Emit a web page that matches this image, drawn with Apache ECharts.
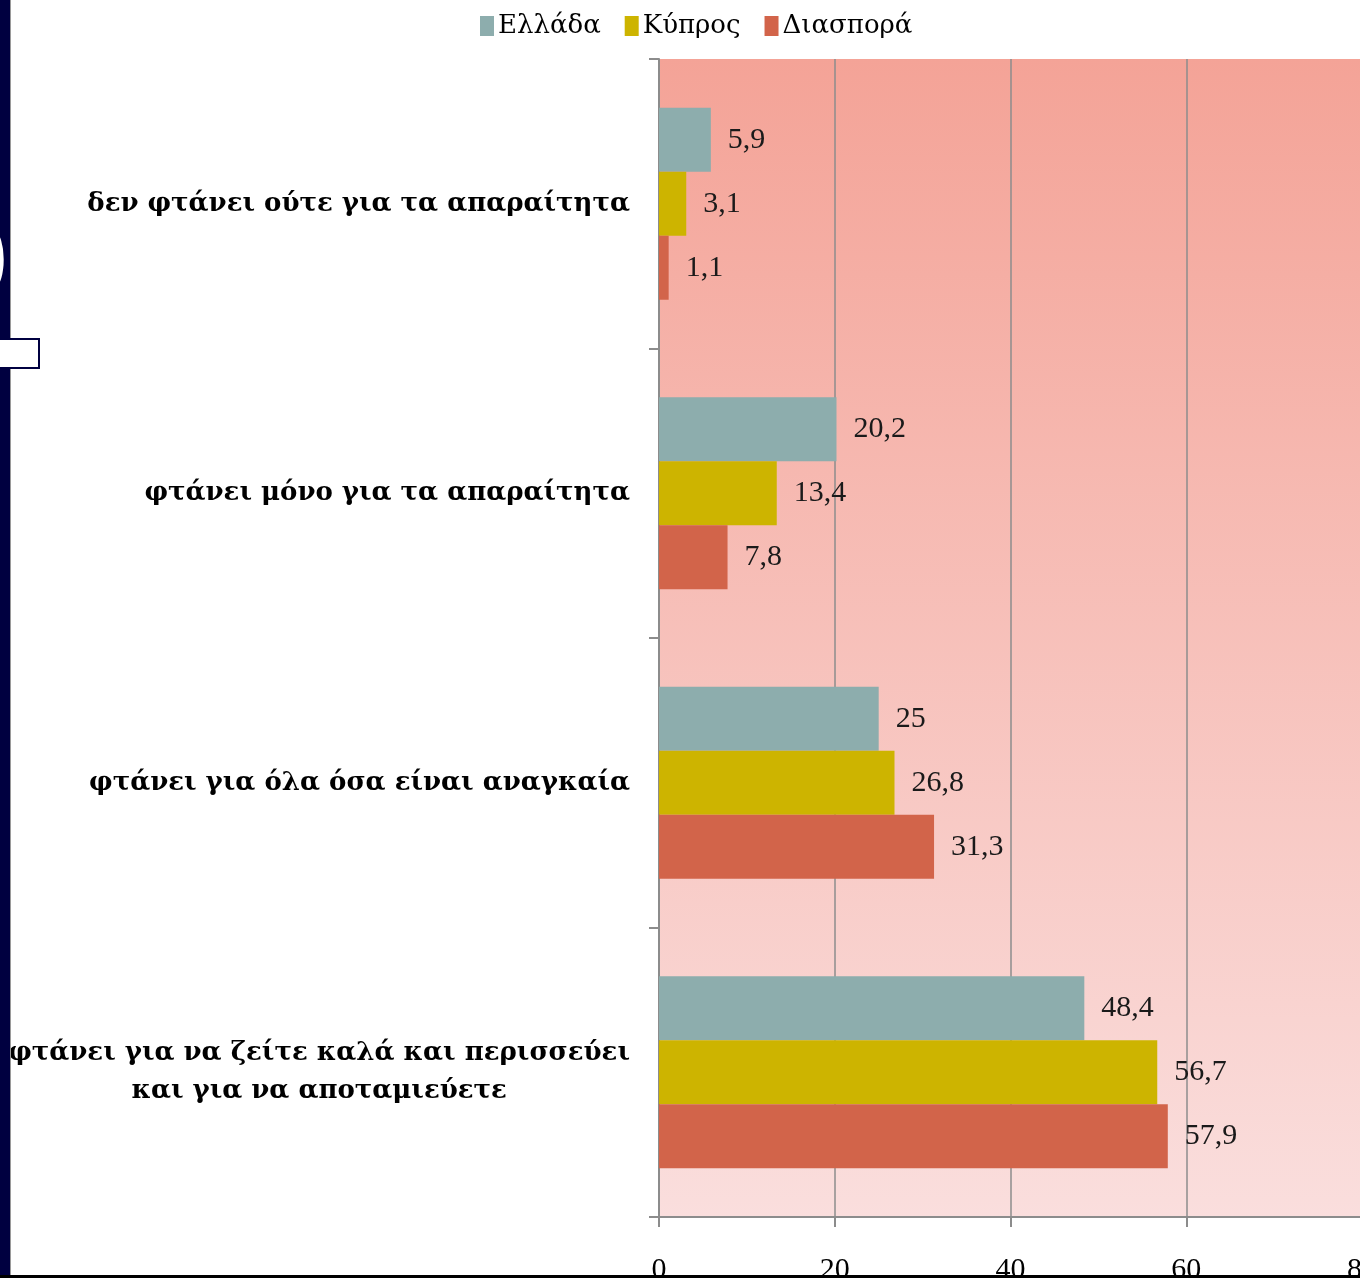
<!DOCTYPE html>
<html>
<head>
<meta charset="utf-8">
<script src="https://cdn.jsdelivr.net/npm/echarts@6/dist/echarts.min.js"></script>
<style>
html,body{margin:0;padding:0;background:#fff;}
#c{width:1360px;height:1278px;}
</style>
</head>
<body>
<div id="c"></div>
<script>
const categories = [
  'δεν φτάνει ούτε για τα απαραίτητα',
  'φτάνει μόνο για τα απαραίτητα',
  'φτάνει για όλα όσα είναι αναγκαία',
  'φτάνει για να ζείτε καλά και περισσεύει\nκαι για να αποταμιεύετε'
];
const seriesNames = ['Ελλάδα', 'Κύπρος', 'Διασπορά'];
const elladaValues = [5.9, 20.2, 25, 48.4];
const kyprosValues = [3.1, 13.4, 26.8, 56.7];
const diasporaValues = [1.1, 7.8, 31.3, 57.9];
const xTicks = [0, 20, 40, 60, 80];
const colors = ['#8DADAD', '#CDB400', '#D2644A'];

const FONT = 'Liberation Serif';
const CATFONT = 'DejaVu Serif';
const CATSIZE = 26;
const chart = echarts.init(document.getElementById('c'));

function mkSeries(name, data, color) {
  return {
    name: name,
    type: 'bar',
    data: data,
    barWidth: 64,
    barGap: '0%',
    itemStyle: { color: color },
    label: {
      show: true,
      position: 'right',
      distance: 17,
      fontFamily: FONT,
      fontSize: 30,
      color: '#1a1a1a',
      formatter: p => String(p.value).replace('.', ',')
    }
  };
}

chart.setOption({
  animation: false,
  legend: {
    top: 8,
    left: 475,
    itemWidth: 14,
    itemHeight: 20,
    itemGap: 24,
    icon: 'rect',
    textStyle: { fontFamily: CATFONT, fontSize: 26, color: '#000', padding: [0,0,0,-1] },
    data: seriesNames
  },
  grid: {
    left: 659, top: 59, width: 703, height: 1158,
    outerBoundsMode: 'none',
    containLabel: false,
    show: true,
    borderWidth: 0,
    backgroundColor: new echarts.graphic.LinearGradient(0, 0, 0, 1, [
      { offset: 0, color: '#F4A397' },
      { offset: 1, color: '#FADEDD' }
    ])
  },
  xAxis: {
    type: 'value',
    min: xTicks[0],
    max: xTicks[xTicks.length - 1],
    interval: 20,
    axisLine: { show: true, lineStyle: { color: '#8c8c8c', width: 2 } },
    axisTick: { show: true, length: 10, lineStyle: { color: '#8c8c8c', width: 2 } },
    splitLine: { show: true, lineStyle: { color: '#8c8c8c', width: 1.5 } },
    axisLabel: { fontFamily: FONT, fontSize: 30, color: '#000', margin: 38 }
  },
  yAxis: {
    type: 'category',
    inverse: true,
    data: categories,
    axisLine: { show: true, lineStyle: { color: '#8c8c8c', width: 2 } },
    axisTick: { show: true, length: 10, lineStyle: { color: '#8c8c8c', width: 2 } },
    axisLabel: {
      margin: 29,
      fontFamily: CATFONT,
      fontWeight: 'bold',
      fontSize: CATSIZE,
      color: '#000',
      lineHeight: 38,
      formatter: function (v) {
        const parts = v.split('\n');
        if (parts.length === 1) return v;
        return '{a|' + parts[0] + '}\n{b|' + parts[1] + '}';
      },
      rich: {
        a: { fontFamily: CATFONT, fontWeight: 'bold', fontSize: CATSIZE, color: '#000', lineHeight: 38 },
        b: { fontFamily: CATFONT, fontWeight: 'bold', fontSize: CATSIZE, color: '#000', lineHeight: 38, align: 'center' }
      }
    }
  },
  series: [
    mkSeries(seriesNames[0], elladaValues, colors[0]),
    mkSeries(seriesNames[1], kyprosValues, colors[1]),
    mkSeries(seriesNames[2], diasporaValues, colors[2])
  ],
  graphic: [
    { type: 'rect', shape: { x: 0, y: 0, width: 10, height: 1278 }, style: { fill: '#000040' }, z: 100 },
    { type: 'rect', shape: { x: 10, y: 0, width: 1, height: 1278 }, style: { fill: '#9a9a9a' }, z: 100 },
    { type: 'text', x: -19, y: 218, style: { text: ')', fill: '#fff', font: 'bold 80px "Liberation Sans"' }, z: 101 },
    { type: 'rect', shape: { x: -2, y: 339, width: 41, height: 29 }, style: { fill: '#fff', stroke: '#000040', lineWidth: 2 }, z: 102 },
    { type: 'rect', shape: { x: 0, y: 1275, width: 1360, height: 3 }, style: { fill: '#000' }, z: 100 }
  ]
});
</script>
</body>
</html>
